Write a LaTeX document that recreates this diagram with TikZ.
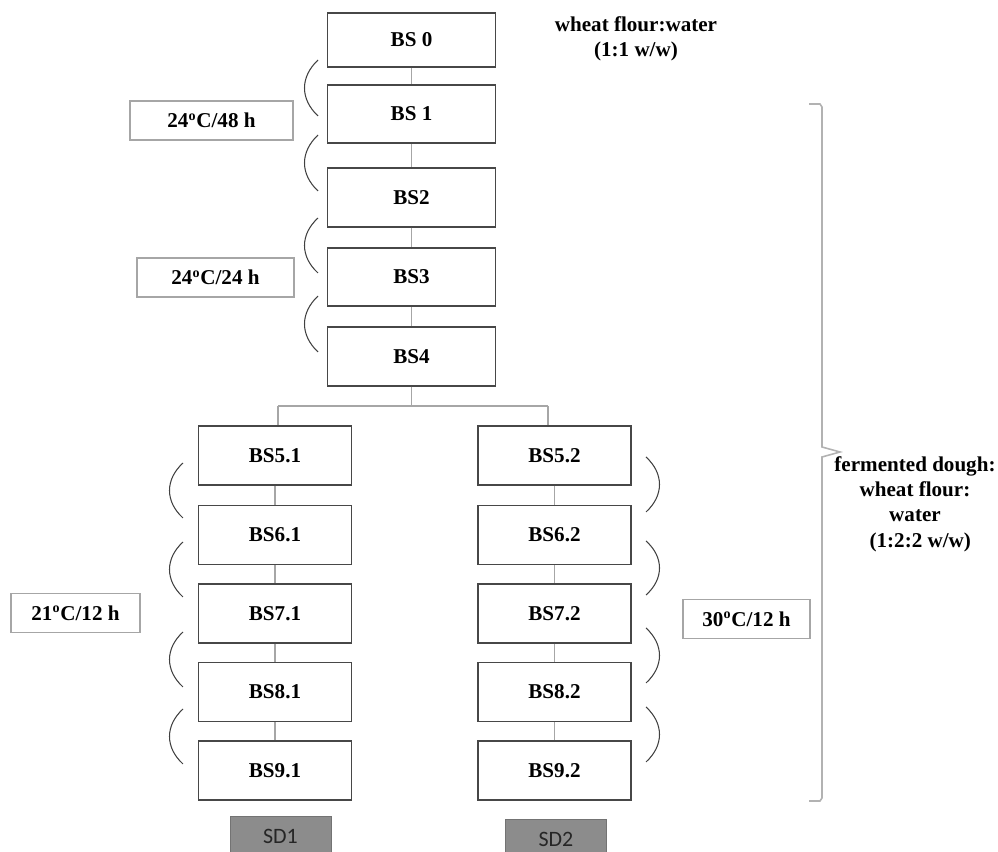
\documentclass[tikz,border=0pt]{standalone}
\usepackage{fontspec}
\setmainfont{Liberation Serif}
\newfontfamily\sdfont{Carlito}

\begin{document}
\begin{tikzpicture}[
        box/.style={draw=black!72, line width=1.05pt, minimum width=3.36cm, minimum height=1.17cm, font=\bfseries},
        sbox/.style={box, minimum width=3.06cm, minimum height=1.18cm},
        lbl/.style={draw=black!35, line width=0.7pt, minimum height=0.78cm, font=\bfseries},
        sd/.style={draw=black!55, fill=black!45, text=black!85, minimum width=2.02cm, minimum height=0.8cm, font=\sdfont\fontsize{12.5}{15}\selectfont},
        link/.style={draw=black!35, line width=0.6pt},
        arc/.style={draw=black!75, line width=0.6pt},
        brace/.style={draw=black!30, line width=0.9pt}
    ]
        \fontsize{12}{14.4}\selectfont
        \clip (0,0) rectangle (19.96,-17.04);
        % first steps
        \node[box, minimum height=1.08cm] (b0) at (8.23,-0.80) {BS 0};
        \node[box] (b1) at (8.23,-2.28) {BS 1};
        \node[box] (b2) at (8.23,-3.95) {BS2};
        \node[box] (b3) at (8.23,-5.54) {BS3};
        \node[box] (b4) at (8.23,-7.13) {BS4};
        \draw[link] (b0) -- (b1);
        \draw[link] (b1) -- (b2);
        \draw[link] (b2) -- (b3);
        \draw[link] (b3) -- (b4);
        % two branches
        \node[sbox] (b51) at (5.50,-9.11) {BS5.1};
        \node[sbox] (b61) at (5.50,-10.70) {BS6.1};
        \node[sbox] (b71) at (5.50,-12.27) {BS7.1};
        \node[sbox] (b81) at (5.50,-13.84) {BS8.1};
        \node[sbox] (b91) at (5.50,-15.41) {BS9.1};
        \node[sbox] (b52) at (11.09,-9.11) {BS5.2};
        \node[sbox] (b62) at (11.09,-10.70) {BS6.2};
        \node[sbox] (b72) at (11.09,-12.27) {BS7.2};
        \node[sbox] (b82) at (11.09,-13.84) {BS8.2};
        \node[sbox] (b92) at (11.09,-15.41) {BS9.2};
        \coordinate (j) at (8.23,-8.12);
        \coordinate (jl) at (5.56,-8.12);
        \coordinate (jr) at (10.96,-8.12);
        \draw[link] (b4) -- (j);
        \draw[link] (jl) -- (jr);
        \draw[link] (jl) -- (jl |- b51.north);
        \draw[link] (jr) -- (jr |- b52.north);
        \draw[link] (b51) -- (b61);
        \draw[link] (b61) -- (b71);
        \draw[link] (b71) -- (b81);
        \draw[link] (b81) -- (b91);
        \draw[link] (b52) -- (b62);
        \draw[link] (b62) -- (b72);
        \draw[link] (b72) -- (b82);
        \draw[link] (b82) -- (b92);
        \node[sd] (sd1) at (5.61,-16.72) {SD1};
        \node[sd] (sd2) at (11.12,-16.78) {SD2};
        % conditions
        \node[lbl, minimum width=3.26cm] (t1) at (4.23,-2.41) {24\textsuperscript{o}C/48 h};
        \node[lbl, minimum width=3.14cm] (t2) at (4.31,-5.55) {24\textsuperscript{o}C/24 h};
        \node[lbl, minimum width=2.58cm] (t3) at (1.51,-12.26) {21\textsuperscript{o}C/12 h};
        \node[lbl, minimum width=2.54cm] (t4) at (14.93,-12.38) {30\textsuperscript{o}C/12 h};
        \node[font=\bfseries, align=center] (w) at (12.72,-0.77) {wheat flour:water\\(1:1 w/w)};
        \node[font=\bfseries, align=center] (f) at (18.30,-10.08) {fermented dough:\\wheat flour:\\water\\\hspace*{0.5em}(1:2:2 w/w)};
        % arcs
        \draw[arc] (6.36,-1.20) .. controls (6.00,-1.54) and (6.00,-1.98) .. (6.36,-2.32);
        \draw[arc] (6.36,-2.70) .. controls (6.00,-3.04) and (6.00,-3.48) .. (6.36,-3.82);
        \draw[arc] (6.36,-4.36) .. controls (6.00,-4.69) and (6.00,-5.13) .. (6.36,-5.46);
        \draw[arc] (6.36,-5.92) .. controls (6.00,-6.26) and (6.00,-6.70) .. (6.36,-7.04);
        \draw[arc] (3.66,-9.26) .. controls (3.30,-9.59) and (3.30,-10.03) .. (3.66,-10.36);
        \draw[arc] (3.66,-10.84) .. controls (3.30,-11.17) and (3.30,-11.61) .. (3.66,-11.94);
        \draw[arc] (3.66,-12.64) .. controls (3.30,-12.97) and (3.30,-13.41) .. (3.66,-13.74);
        \draw[arc] (3.66,-14.18) .. controls (3.30,-14.51) and (3.30,-14.95) .. (3.66,-15.28);
        \draw[arc] (12.92,-9.14) .. controls (13.28,-9.47) and (13.28,-9.91) .. (12.92,-10.24);
        \draw[arc] (12.92,-10.82) .. controls (13.28,-11.14) and (13.28,-11.58) .. (12.92,-11.90);
        \draw[arc] (12.92,-12.56) .. controls (13.28,-12.89) and (13.28,-13.33) .. (12.92,-13.66);
        \draw[arc] (12.92,-14.14) .. controls (13.28,-14.47) and (13.28,-14.91) .. (12.92,-15.24);
        % brace
        \draw[brace] (16.18,-2.08) -- (16.40,-2.08) -- (16.44,-2.14) -- (16.44,-8.94) -- (16.80,-9.04) -- (16.44,-9.14) -- (16.44,-15.96) -- (16.40,-16.02) -- (16.18,-16.02);
    \end{tikzpicture}
\end{document}
